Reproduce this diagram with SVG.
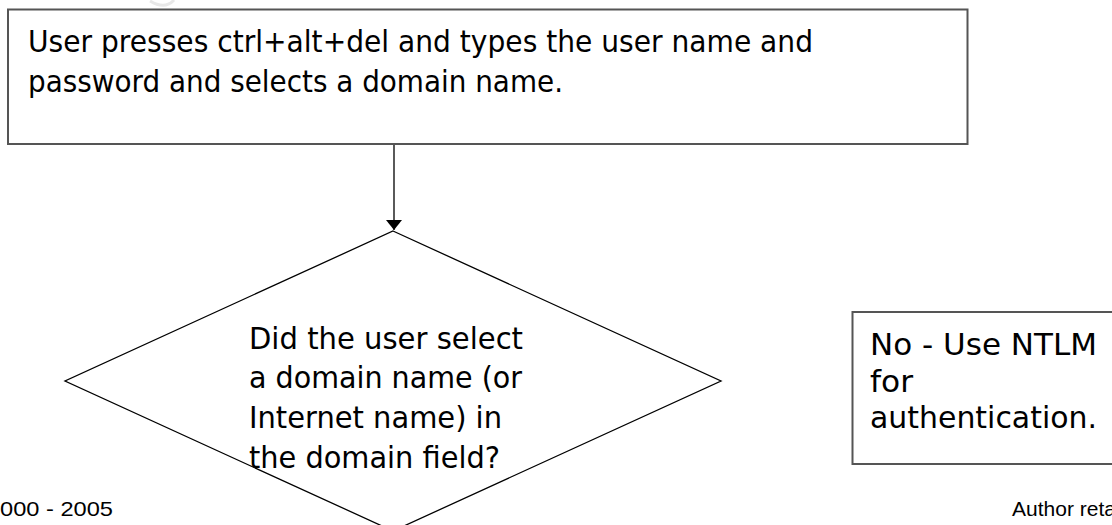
<svg xmlns="http://www.w3.org/2000/svg" width="1112" height="525" viewBox="0 0 1112 525">
<style>
.box{fill:#fff;stroke:#555;stroke-width:2}
.dia{fill:#fff;stroke:#000;stroke-width:1.3}
.t{font-family:"DejaVu Sans",sans-serif;font-size:30px;fill:#000}
.f{font-family:"Liberation Sans",Arial,sans-serif;font-size:21px;fill:#000}
.conn{stroke:#000;stroke-width:1.3;fill:none}
</style>
<defs>
<marker id="ah" viewBox="0 0 10 16" refX="10" refY="8" markerWidth="10" markerHeight="16" markerUnits="userSpaceOnUse" orient="auto">
<path d="M0,0 L10,8 L0,16 z" fill="#000"/>
</marker>
</defs>
<rect width="1112" height="525" fill="#fff"/>
<path d="M150,1 Q165,10 174,0" fill="none" stroke="#e8e8e8" stroke-width="3"/>
<g id="connectors">
<line class="conn" x1="394" y1="145" x2="394" y2="230" marker-end="url(#ah)"/>
</g>
<g id="start">
<rect class="box" x="8" y="9.5" width="959.5" height="134.5"/>
<text class="t" x="28" y="52" textLength="785" lengthAdjust="spacingAndGlyphs">User presses ctrl+alt+del and types the user name and</text>
<text class="t" x="28" y="92" textLength="535" lengthAdjust="spacingAndGlyphs">password and selects a domain name.</text>
</g>
<g id="decision">
<polygon class="dia" points="393,231 721,381 393,531 65,381"/>
<text class="t" x="249" y="349" textLength="274" lengthAdjust="spacingAndGlyphs">Did the user select</text>
<text class="t" x="249" y="388" textLength="273" lengthAdjust="spacingAndGlyphs">a domain name (or</text>
<text class="t" x="249" y="428" textLength="253" lengthAdjust="spacingAndGlyphs">Internet name) in</text>
<text class="t" x="249" y="468" textLength="251" lengthAdjust="spacingAndGlyphs">the domain field?</text>
</g>
<g id="ntlm">
<rect class="box" x="852.5" y="312" width="270" height="152"/>
<text class="t" x="870" y="355" textLength="227" lengthAdjust="spacingAndGlyphs">No - Use NTLM</text>
<text class="t" x="870" y="392" textLength="43" lengthAdjust="spacingAndGlyphs">for</text>
<text class="t" x="870" y="428" textLength="227" lengthAdjust="spacingAndGlyphs">authentication.</text>
</g>
<g id="footer">
<text class="f" x="0" y="516" textLength="113" lengthAdjust="spacingAndGlyphs">000 - 2005</text>
<text class="f" x="1012" y="516" font-size="20.5">Author reta</text>
</g>
</svg>
